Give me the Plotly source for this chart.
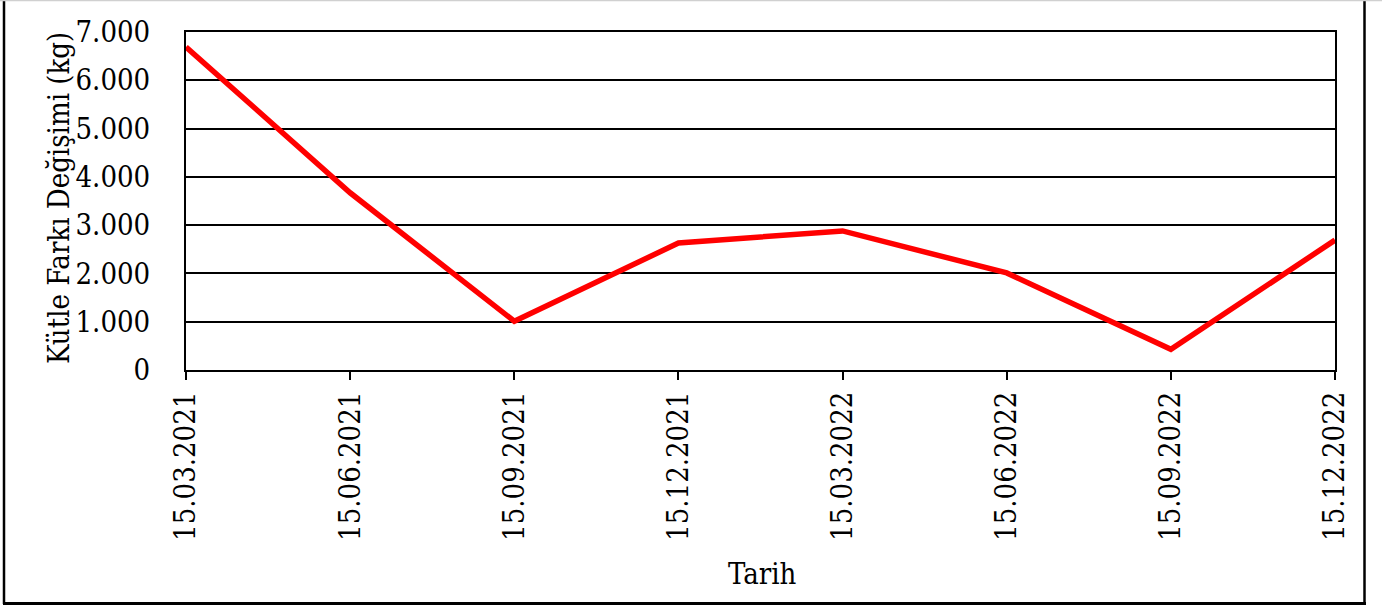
import plotly.graph_objects as go

dates = ["15.03.2021", "15.06.2021", "15.09.2021", "15.12.2021",
         "15.03.2022", "15.06.2022", "15.09.2022", "15.12.2022"]
mass_diff = [6690, 3670, 1010, 2630, 2880, 2010, 430, 2690]
y_ticks = [0, 1000, 2000, 3000, 4000, 5000, 6000, 7000]
y_tick_labels = ["0", "1.000", "2.000", "3.000", "4.000", "5.000", "6.000", "7.000"]
x_title = "Tarih"
y_title = "Kütle Farkı Değişimi (kg)"

FONT = "DejaVu Serif Condensed, Liberation Serif, serif"

W, H = 1382, 608
L, R, T, B = 186, 47, 32, 238
PW, PH = W - L - R, H - T - B


def px(x):
    return (x - L) / PW


def py(y):
    return (H - B - y) / PH


fig = go.Figure()
fig.add_trace(go.Scatter(
    x=dates, y=mass_diff, mode="lines",
    line=dict(color="#FF0000", width=5.5),
    showlegend=False,
))

fig.update_layout(
    width=W, height=H,
    margin=dict(l=L, r=R, t=T, b=B),
    paper_bgcolor="white", plot_bgcolor="white",
    font=dict(family=FONT, size=29, color="black"),
    xaxis=dict(
        type="category", range=[0, 7],
        tickangle=-90, ticks="outside", ticklen=8, tickwidth=2, tickcolor="black",
        showline=True, linecolor="black", linewidth=2, mirror=True,
        showgrid=False, zeroline=False,
    ),
    yaxis=dict(
        range=[0, 7000], tickvals=y_ticks, ticktext=y_tick_labels,
        ticks="", ticklabelstandoff=28,
        showline=True, linecolor="black", linewidth=2, mirror=True,
        showgrid=True, gridcolor="black", gridwidth=1.5, zeroline=False,
    ),
    annotations=[
        dict(text=x_title, xref="paper", yref="paper", x=px(762), y=py(574),
             xanchor="center", yanchor="middle", showarrow=False,
             font=dict(family=FONT, size=29, color="black")),
        dict(text=y_title, xref="paper", yref="paper", x=px(59), y=py(198),
             xanchor="center", yanchor="middle", showarrow=False, textangle=-90,
             font=dict(family=FONT, size=29, color="black")),
    ],
    shapes=[
        dict(type="line", xref="paper", yref="paper", x0=px(4), x1=px(4), y0=py(604), y1=py(0),
             line=dict(color="black", width=2.5)),
        dict(type="line", xref="paper", yref="paper", x0=px(1364.5), x1=px(1364.5), y0=py(604), y1=py(0),
             line=dict(color="black", width=2.5)),
        dict(type="line", xref="paper", yref="paper", x0=px(3), x1=px(1366), y0=py(603.5), y1=py(603.5),
             line=dict(color="black", width=3)),
        dict(type="line", xref="paper", yref="paper", x0=px(0), x1=px(W), y0=py(0.5), y1=py(0.5),
             line=dict(color="#d0d0d0", width=1.5)),
    ],
)

fig.write_html("out.html", config={"displayModeBar": False},
               post_script="document.body.style.margin='0';")
